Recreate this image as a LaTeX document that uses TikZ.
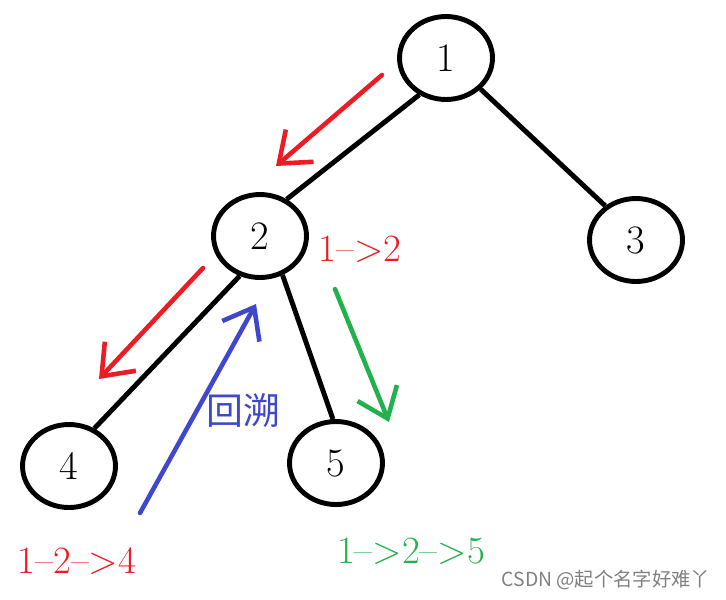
\documentclass[tikz,border=0pt]{standalone}
\usepackage{fontspec}
\newfontfamily\cjk{Noto Sans CJK SC}
\usetikzlibrary{shapes.geometric, arrows.meta, positioning}
\definecolor{pathred}{HTML}{ED1C24}
\definecolor{pathgreen}{HTML}{22B14C}
\definecolor{backblue}{HTML}{3F48CC}

\begin{document}
\begin{tikzpicture}[x=0.02cm, y=-0.02cm,
    every node/.style={font=\fontsize{23}{26}\selectfont},
    vertex/.style={ellipse, draw, line width=2.8pt, minimum width=1.86cm,
                   minimum height=1.66cm, inner sep=0pt},
    edge/.style={line width=2.8pt},
    walk/.style={-{Straight Barb[length=5.5mm, width=8.5mm]}, line width=2.6pt,
                 line cap=round, line join=round},
    tag/.style={font=\fontsize{22}{24}\selectfont}
]
    \useasboundingbox (0,0) rectangle (726,599);
    % tree
    \node[vertex] (n1) at (446,58)  {1};
    \node[vertex] (n2) at (260,236) {2};
    \node[vertex] (n3) at (636,240) {3};
    \node[vertex] (n4) at (69,466)  {4};
    \node[vertex] (n5) at (336,463) {5};
    \draw[edge] (n1.234) -- (n2.54);
    \draw[edge] (n1.318) -- (n3.132);
    \draw[edge] (n2.243) -- (n4.56);
    \draw[edge] (n2.300) -- (n5.94);
    % walks
    \coordinate (r1s) at (382,75);  \coordinate (r1e) at (276,166);
    \coordinate (r2s) at (203,268); \coordinate (r2e) at (99,379);
    \coordinate (g1s) at (335,289); \coordinate (g1e) at (389,422);
    \coordinate (b1s) at (140,513); \coordinate (b1e) at (256,304);
    \draw[walk, pathred]   (r1s) -- (r1e);
    \draw[walk, pathred]   (r2s) -- (r2e);
    \draw[walk, pathgreen] (g1s) -- (g1e);
    \draw[walk, backblue]  (b1s) -- (b1e);
    % labels
    \node[tag, pathred]   (l12)  at (360,249) {1–>2};
    \node[tag, pathred]   (l124) at (77,561)  {1–2–>4};
    \node[tag, pathgreen] (l125) at (411,551) {1–>2–>5};
    \node[backblue, font=\cjk\fontsize{21}{24}\selectfont] (back) at (243,411) {回溯};
    \node[gray, font=\cjk\fontsize{11}{13}\selectfont] (mark) at (606,580) {CSDN @起个名字好难丫};
\end{tikzpicture}
\end{document}
